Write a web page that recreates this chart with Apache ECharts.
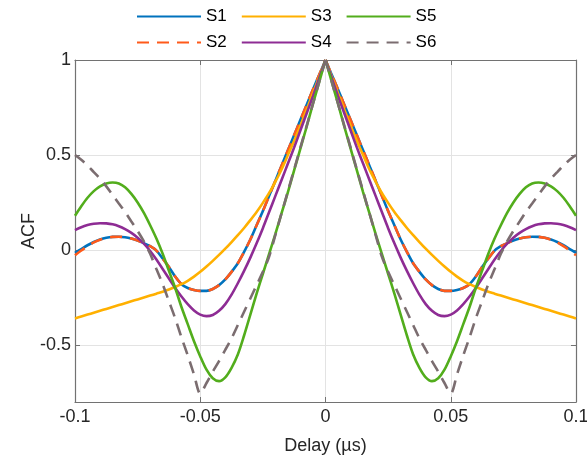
<!DOCTYPE html>
<html>
<head>
<meta charset="utf-8">
<script src="https://cdn.jsdelivr.net/npm/echarts@6/dist/echarts.min.js"></script>
<style>
  html, body { margin: 0; padding: 0; background: #fff; }
  #chart { width: 587px; height: 457px; }
</style>
</head>
<body>
<div id="chart"></div>
<script>
// Delay samples (µs) for the negative half; every curve is symmetric about 0.
const delays = [-0.1, -0.0975, -0.095, -0.0925, -0.09, -0.0875, -0.085, -0.0825, -0.08, -0.0775,
                -0.075, -0.0725, -0.07, -0.0675, -0.065, -0.0625, -0.06, -0.0575, -0.055, -0.0525,
                -0.05, -0.0475, -0.045, -0.0425, -0.04, -0.0375, -0.035, -0.0325, -0.03, -0.0275,
                -0.025, -0.0225, -0.02, -0.0175, -0.015, -0.0125, -0.01, -0.0075, -0.005, -0.0025, 0];

const s1 = [-0.015, 0.005, 0.025, 0.042, 0.055, 0.064, 0.069, 0.07, 0.067, 0.06,
            0.05, 0.036, 0.02, -0.003, -0.045, -0.09, -0.14, -0.18, -0.2, -0.21,
            -0.215, -0.215, -0.205, -0.185, -0.155, -0.115, -0.07, -0.01, 0.055, 0.13,
            0.205, 0.285, 0.365, 0.445, 0.525, 0.605, 0.685, 0.765, 0.845, 0.922, 1];
const s2 = [-0.028, -0.003, 0.02, 0.04, 0.054, 0.064, 0.069, 0.07, 0.067, 0.06,
            0.05, 0.036, 0.02, -0.003, -0.045, -0.09, -0.14, -0.18, -0.2, -0.21,
            -0.215, -0.215, -0.205, -0.185, -0.155, -0.115, -0.07, -0.01, 0.055, 0.13,
            0.205, 0.285, 0.365, 0.445, 0.525, 0.605, 0.685, 0.765, 0.845, 0.922, 1];
const s3 = [-0.36, -0.35, -0.34, -0.33, -0.32, -0.31, -0.3, -0.29, -0.28, -0.27,
            -0.26, -0.25, -0.24, -0.23, -0.22, -0.208, -0.195, -0.18, -0.162, -0.14,
            -0.115, -0.087, -0.057, -0.026, 0.007, 0.042, 0.078, 0.116, 0.157, 0.2,
            0.248, 0.3, 0.36, 0.425, 0.5, 0.575, 0.655, 0.74, 0.825, 0.912, 1];
const s4 = [0.105, 0.12, 0.131, 0.138, 0.141, 0.14, 0.135, 0.125, 0.11, 0.09,
            0.065, 0.033, -0.005, -0.05, -0.1, -0.15, -0.2, -0.245, -0.285, -0.318,
            -0.34, -0.348, -0.342, -0.32, -0.285, -0.235, -0.175, -0.11, -0.04, 0.035,
            0.115, 0.2, 0.285, 0.37, 0.455, 0.54, 0.63, 0.72, 0.81, 0.905, 1];
const s5 = [0.18, 0.23, 0.275, 0.31, 0.335, 0.35, 0.355, 0.35, 0.33, 0.295,
            0.25, 0.195, 0.13, 0.06, -0.02, -0.11, -0.2, -0.3, -0.39, -0.48,
            -0.56, -0.63, -0.675, -0.69, -0.67, -0.62, -0.55, -0.45, -0.34, -0.23,
            -0.125, -0.02, 0.085, 0.195, 0.305, 0.42, 0.535, 0.65, 0.77, 0.885, 1];
const s6 = [0.5, 0.475, 0.445, 0.41, 0.375, 0.335, 0.29, 0.245, 0.2, 0.15,
            0.1, 0.045, -0.02, -0.1, -0.18, -0.27, -0.36, -0.46, -0.555, -0.655,
            -0.755, -0.7, -0.64, -0.585, -0.525, -0.465, -0.395, -0.325, -0.255, -0.185,
            -0.115, -0.035, 0.08, 0.195, 0.31, 0.425, 0.54, 0.655, 0.77, 0.885, 1];

const names = ['S1', 'S2', 'S3', 'S4', 'S5', 'S6'];
const values = [s1, s2, s3, s4, s5, s6];
const colors = ['#0072BD', '#FF5A1A', '#FFB000', '#8E2C94', '#52AD1C', '#7B6D70'];
const dashed = [false, true, false, false, false, true];

const yTicks = [-0.5, 0, 0.5, 1];

const tickColor = '#262626';
const axisColor = '#727272';
const font = 'Liberation Sans, Arial, Helvetica, sans-serif';

// Each curve is drawn as two halves meeting at the sharp peak at zero delay.
const series = [];
names.forEach((name, k) => {
  const vals = values[k];
  const left = delays.map((d, i) => [d, vals[i]]);
  const right = delays.map((d, i) => [0 - d, vals[i]]).reverse();
  [left, right].forEach(half => {
    series.push({
      name: name,
      type: 'line',
      data: half,
      smooth: 0.3,
      symbol: 'none',
      clip: true,
      lineStyle: {
        color: colors[k],
        width: 2.6,
        type: dashed[k] ? [12, 8] : 'solid'
      },
      itemStyle: { color: colors[k] },
      emphasis: { disabled: true }
    });
  });
});

const legendCommon = {
  left: 136,
  padding: 0,
  itemWidth: 64,
  itemHeight: 14,
  itemGap: 14,
  itemStyle: { opacity: 0 },
  textStyle: { fontSize: 17, color: '#000', fontFamily: font },
  selectedMode: false
};

const option = {
  animation: false,
  backgroundColor: '#fff',
  legend: [
    Object.assign({ top: 8, data: ['S1', 'S3', 'S5'] }, legendCommon),
    Object.assign({ top: 34, data: ['S2', 'S4', 'S6'] }, legendCommon)
  ],
  grid: { left: 75, right: 11, top: 60, bottom: 55, containLabel: false, outerBoundsMode: 'none' },
  xAxis: [{
    type: 'value',
    min: -0.1,
    max: 0.1,
    interval: 0.05,
    name: 'Delay (µs)',
    nameLocation: 'middle',
    nameGap: 35,
    nameMoveOverlap: false,
    nameTextStyle: { fontSize: 18, color: tickColor, fontFamily: font },
    axisLine: { show: true, onZero: false, lineStyle: { color: axisColor, width: 1.2 } },
    axisTick: { show: true, inside: true, length: 5, lineStyle: { color: axisColor } },
    axisLabel: { fontSize: 18, color: tickColor, fontFamily: font, margin: 6 },
    splitLine: { show: true, lineStyle: { color: '#e3e3e3', width: 1 } }
  }, {
    type: 'value',
    position: 'top',
    min: -0.1,
    max: 0.1,
    interval: 0.05,
    axisLine: { show: true, onZero: false, lineStyle: { color: axisColor, width: 1.2 } },
    axisTick: { show: true, inside: true, length: 5, lineStyle: { color: axisColor } },
    axisLabel: { show: false },
    splitLine: { show: false }
  }],
  yAxis: [{
    type: 'value',
    min: -0.8,
    max: 1,
    name: 'ACF',
    nameLocation: 'middle',
    nameGap: 37,
    nameMoveOverlap: false,
    nameTextStyle: { fontSize: 18, color: tickColor, fontFamily: font },
    axisLine: { show: true, onZero: false, lineStyle: { color: axisColor, width: 1.2 } },
    axisTick: { show: true, inside: true, length: 5, lineStyle: { color: axisColor }, customValues: yTicks },
    axisLabel: { fontSize: 18, color: tickColor, fontFamily: font, margin: 4, customValues: yTicks },
    splitLine: { show: true, lineStyle: { color: '#e3e3e3', width: 1 } }
  }, {
    type: 'value',
    position: 'right',
    min: -0.8,
    max: 1,
    axisLine: { show: true, onZero: false, lineStyle: { color: axisColor, width: 1.2 } },
    axisTick: { show: true, inside: true, length: 5, lineStyle: { color: axisColor }, customValues: yTicks },
    axisLabel: { show: false },
    splitLine: { show: false }
  }],
  series: series
};

const chart = echarts.init(document.getElementById('chart'), null, { renderer: 'canvas' });
chart.setOption(option);
</script>
</body>
</html>
